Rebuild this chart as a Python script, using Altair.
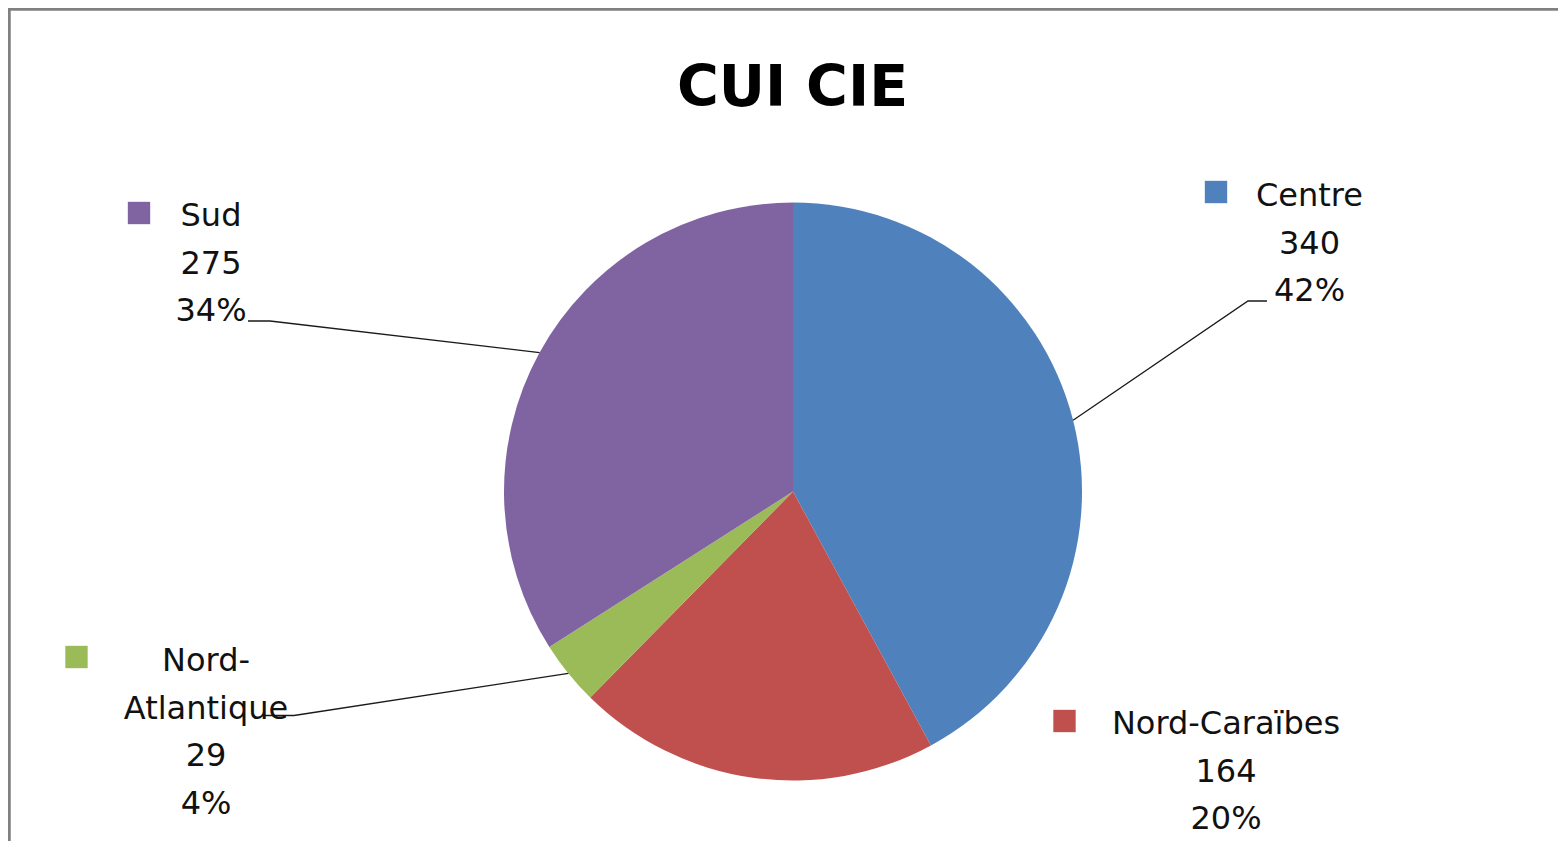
import math
import altair as alt
import pandas as pd

# ---- data ----
regions = ["Centre", "Nord-Caraïbes", "Nord-Atlantique", "Sud"]
values = [340, 164, 29, 275]
pct_labels = ["42%", "20%", "4%", "34%"]
name_lines = [["Centre"], ["Nord-Caraïbes"], ["Nord-", "Atlantique"], ["Sud"]]
colors = ["#4F81BD", "#C0504D", "#9BBB59", "#8064A2"]
title_text = "CUI CIE"

# ---- layout (pixels, chart coordinates) ----
W, H = 1550, 833
CX, CY, R = 785, 483.5, 289
FONT = "DejaVu Sans"
LINE = 47.5
label_anchor = {  # centre x of text block, baseline of first line
    "Centre": (1301.5, 198),
    "Nord-Caraïbes": (1218, 726),
    "Nord-Atlantique": (198, 663),
    "Sud": (203, 218),
}
key_pos = {
    "Centre": (1208, 184),
    "Nord-Caraïbes": (1056.5, 713),
    "Nord-Atlantique": (68.5, 649),
    "Sud": (131, 205),
}
leader_pts = {  # elbow and end of the leader line
    "Centre": [(1240, 293), (1259, 293)],
    "Sud": [(262, 313), (240, 313)],
    "Nord-Atlantique": [(286, 707.5), (254, 707.5)],
}

pie_df = pd.DataFrame({"region": regions, "value": values, "idx": range(len(regions))})

# label text rows
rows = []
for reg, v, p, names in zip(regions, values, pct_labels, name_lines):
    x0, y0 = label_anchor[reg]
    lines = names + [str(v), p]
    for i, t in enumerate(lines):
        rows.append({"region": reg, "txt": t, "px": x0, "py": y0 + i * LINE})
text_df = pd.DataFrame(rows)

key_df = pd.DataFrame([{"region": r, "px": key_pos[r][0], "py": key_pos[r][1]} for r in regions])

# leader lines: start on pie edge at slice mid-angle
total = sum(values)
lrows = []
cum = 0
for reg, v in zip(regions, values):
    mid = (cum + v / 2) / total * 2 * math.pi
    cum += v
    if reg in leader_pts:
        pts = [(CX + R * math.sin(mid), CY - R * math.cos(mid))] + leader_pts[reg]
        for k, (px, py) in enumerate(pts):
            lrows.append({"region": reg, "seq": k, "px": px, "py": py})
lead_df = pd.DataFrame(lrows)

xs = alt.Scale(domain=[0, W], range=[0, W])
ys = alt.Scale(domain=[H, 0])
color = alt.Color("region:N", scale=alt.Scale(domain=regions, range=colors), legend=None)

pie = alt.Chart(pie_df).mark_arc(radius=R).encode(
    theta=alt.Theta("value:Q", stack=True),
    order=alt.Order("idx:Q", sort="ascending"),
    color=color,
    x=alt.value(CX),
    y=alt.value(CY),
)

leaders = alt.Chart(lead_df).mark_line(color="#1a1a1a", strokeWidth=1.3).encode(
    x=alt.X("px:Q", scale=xs, axis=None),
    y=alt.Y("py:Q", scale=ys, axis=None),
    detail="region:N",
    order="seq:Q",
)

keys = alt.Chart(key_df).mark_square(size=500, opacity=1).encode(
    x=alt.X("px:Q", scale=xs, axis=None),
    y=alt.Y("py:Q", scale=ys, axis=None),
    color=color,
)

labels = alt.Chart(text_df).mark_text(
    font=FONT, fontSize=32, align="center", baseline="alphabetic", color="#111111"
).encode(
    x=alt.X("px:Q", scale=xs, axis=None),
    y=alt.Y("py:Q", scale=ys, axis=None),
    text="txt:N",
)

title = alt.Chart(pd.DataFrame({"t": [title_text]})).mark_text(
    font=FONT, fontSize=57, fontWeight="bold", align="center", baseline="alphabetic", color="#000000"
).encode(x=alt.value(784.5), y=alt.value(98), text="t:N")

border_left = alt.Chart(pd.DataFrame({"a": [0]})).mark_rule(color="#808080", strokeWidth=3.5).encode(
    x=alt.value(1), y=alt.value(0), y2=alt.value(H)
)
border_top = alt.Chart(pd.DataFrame({"a": [0]})).mark_rule(color="#808080", strokeWidth=3.5).encode(
    x=alt.value(0), x2=alt.value(W), y=alt.value(1)
)

chart = alt.layer(pie, leaders, keys, labels, title, border_left, border_top).properties(
    width=W, height=H, padding=0, autosize=alt.AutoSizeParams(type="none"), background="white"
).configure_view(stroke=None)

chart.save("out.html", embed_options={"renderer": "svg", "actions": False})
